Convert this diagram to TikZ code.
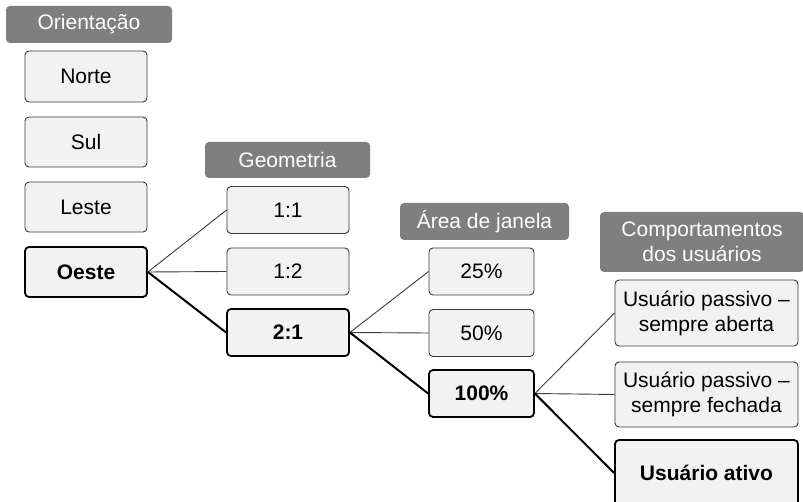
\documentclass[tikz,border=0pt]{standalone}
\usepackage{fontspec}
\setmainfont{Liberation Sans}
\definecolor{boxfill}{HTML}{F2F2F2}
\definecolor{headfill}{HTML}{7F7F7F}
\definecolor{edgegray}{HTML}{3A3A3A}
\newcommand{\labelsize}{\fontsize{21}{25}\selectfont}
\tikzset{
    head/.style={fill=headfill,text=white,rounded corners=4pt,inner sep=0pt,align=center},
    choice/.style={draw=edgegray,line width=0.9pt,fill=boxfill,rounded corners=4pt,inner sep=0pt,align=center},
    picked/.style={choice,draw=black,line width=1.8pt,font=\labelsize\bfseries},
    link/.style={draw=edgegray,line width=0.9pt},
    path/.style={draw=black,line width=2pt}
}
\begin{document}
\begin{tikzpicture}[x=1pt,y=-1pt,font=\labelsize]
    \useasboundingbox (0,0) rectangle (803,502);

    \node[head,minimum width=166,minimum height=37] (hOri) at (89,24.5) {Orientação};
    \node[choice,minimum width=122,minimum height=51] (norte) at (86,76.5) {Norte};
    \node[choice,minimum width=122,minimum height=50] (sul) at (86,142) {Sul};
    \node[choice,minimum width=122,minimum height=50] (leste) at (86,207) {Leste};
    \node[picked,minimum width=122,minimum height=50] (oeste) at (86,272) {Oeste};

    \node[head,minimum width=165,minimum height=36] (hGeo) at (287.5,160) {Geometria};
    \node[choice,minimum width=122,minimum height=47] (g11) at (288,210) {1:1};
    \node[choice,minimum width=122,minimum height=47] (g12) at (288,271.5) {1:2};
    \node[picked,minimum width=122,minimum height=47] (g21) at (288,332.5) {2:1};

    \node[head,minimum width=169,minimum height=37] (hArea) at (484.5,221.5) {Área de janela};
    \node[choice,minimum width=105,minimum height=47] (a25) at (481.5,271.5) {25\%};
    \node[choice,minimum width=105,minimum height=47] (a50) at (481.5,333) {50\%};
    \node[picked,minimum width=105,minimum height=47] (a100) at (481.5,393.5) {100\%};

    \node[head,minimum width=204,minimum height=60] (hUso) at (702,242) {Comportamentos\\dos usuários};
    \node[choice,minimum width=183,minimum height=66] (uAberta) at (706.5,313) {Usuário passivo --\\sempre aberta};
    \node[choice,minimum width=183,minimum height=65] (uFechada) at (706.5,394.5) {Usuário passivo --\\sempre fechada};
    \node[picked,minimum width=183,minimum height=66] (uAtivo) at (706.5,473) {Usuário ativo};

\draw [link] (oeste.east) -- (g11.west);
\draw [link] (oeste.east) -- (g12.west);
\draw [path] (oeste.east) -- (g21.west);
\draw [link] (g21.east) -- (a25.west);
\draw [link] (g21.east) -- (a50.west);
\draw [path] (g21.east) -- (a100.west);
\draw [link] (a100.east) -- (uAberta.west);
\draw [link] (a100.east) -- (uFechada.west);
\draw [path] (a100.east) -- (uAtivo.west);
\end{tikzpicture}
\end{document}
